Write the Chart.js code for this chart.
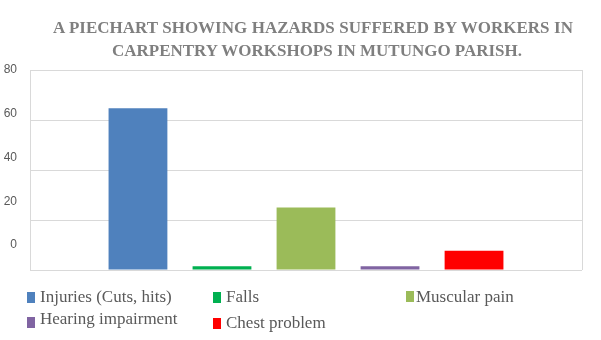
<!DOCTYPE html>
<html><head><meta charset="utf-8">
<script src="https://cdn.jsdelivr.net/npm/chart.js@4"></script>
<style>
html,body{margin:0;padding:0;background:#fff;}
#wrap{position:relative;width:601px;height:340px;overflow:hidden;background:#fff;}
#c{position:absolute;left:0;top:0;}
.t{position:absolute;white-space:nowrap;font:bold 17px "Liberation Serif","Times New Roman",serif;color:#7f7f7f;line-height:17px;transform-origin:0 0;}
.lg{position:absolute;white-space:nowrap;font:17px "Liberation Serif","Times New Roman",serif;color:#595959;line-height:17px;}
.sw{position:absolute;width:8px;height:11px;}
</style></head><body>
<div id="wrap">
<canvas id="c" width="601" height="340"></canvas>
<div class="t" id="t1">A PIECHART SHOWING HAZARDS SUFFERED BY WORKERS IN</div>
<div class="t" id="t2">CARPENTRY WORKSHOPS IN MUTUNGO PARISH.</div>
<div id="legend"></div>
</div>
<script>
const categories = ['Injuries (Cuts, hits)', 'Falls', 'Muscular pain', 'Hearing impairment', 'Chest problem'];
const values = [64.7, 1.5, 25, 1.5, 7.7];
const colors = ['#4f81bd', '#00b050', '#9bbb59', '#8064a2', '#ff0000'];
const yTickLabels = [0, 20, 40, 60, 80];

// Title fitting: line 2 sets the horizontal scale, line 1 is justified with word spacing
const t1 = document.getElementById('t1');
const t2 = document.getElementById('t2');
t1.style.left = '52.7px'; t1.style.top = '18.5px';
t2.style.left = '111.7px'; t2.style.top = '41.5px';
const w2 = t2.getBoundingClientRect().width;
const s = 410 / w2;
t2.style.transform = 'scaleX(' + s + ')';
const w1 = t1.getBoundingClientRect().width;
const gaps1 = t1.textContent.split(' ').length - 1;
t1.style.wordSpacing = ((520 / s - w1) / gaps1) + 'px';
t1.style.transform = 'scaleX(' + s + ')';

// Legend (HTML)
const legPos = [
  {sx: 27, sy: 292, tx: 40, ty: 288},
  {sx: 213, sy: 292, tx: 226, ty: 288},
  {sx: 406, sy: 291, tx: 416, ty: 287.5},
  {sx: 27, sy: 317, tx: 40, ty: 310},
  {sx: 213, sy: 317.5, tx: 226, ty: 313.5}
];
const leg = document.getElementById('legend');
categories.forEach((c, i) => {
  const p = legPos[i];
  const sw = document.createElement('div');
  sw.className = 'sw';
  sw.style.left = p.sx + 'px';
  sw.style.top = p.sy + 'px';
  sw.style.background = colors[i];
  leg.appendChild(sw);
  const t = document.createElement('div');
  t.className = 'lg';
  t.style.left = p.tx + 'px';
  t.style.top = p.ty + 'px';
  t.textContent = c;
  leg.appendChild(t);
});

new Chart(document.getElementById('c'), {
  type: 'bar',
  data: {
    labels: [''],
    datasets: categories.map((c, i) => ({
      label: c,
      data: [values[i]],
      backgroundColor: colors[i],
      borderWidth: 0
    }))
  },
  options: {
    responsive: false,
    animation: false,
    datasets: {bar: {categoryPercentage: 0.761, barPercentage: 0.7}},
    layout: {padding: {left: 0, right: 19, top: 70, bottom: 70}},
    plugins: {legend: {display: false}, title: {display: false}, tooltip: {enabled: false}},
    scales: {
      x: {
        offset: true,
        grid: {display: true, color: '#d9d9d9', offset: true, drawTicks: false},
        border: {display: false},
        ticks: {display: false},
        afterFit(sc) { sc.height = 0; }
      },
      y: {
        min: 0, max: 80,
        weight: 0,
        ticks: {display: false, stepSize: 20},
        grid: {color: '#d9d9d9', drawTicks: false},
        border: {display: false},
        afterFit(sc) { sc.width = 0; }
      },
      y2: {
        position: 'left',
        min: -11.43, max: 80,
        weight: 1,
        grid: {display: false, drawTicks: false},
        border: {display: false},
        ticks: {padding: 13, color: '#595959', font: {family: 'Liberation Sans', size: 12}},
        afterBuildTicks(sc) { sc.ticks = yTickLabels.map(v => ({value: v})); },
        afterFit(sc) { sc.width = 30; }
      }
    }
  }
});
</script>
</body></html>
